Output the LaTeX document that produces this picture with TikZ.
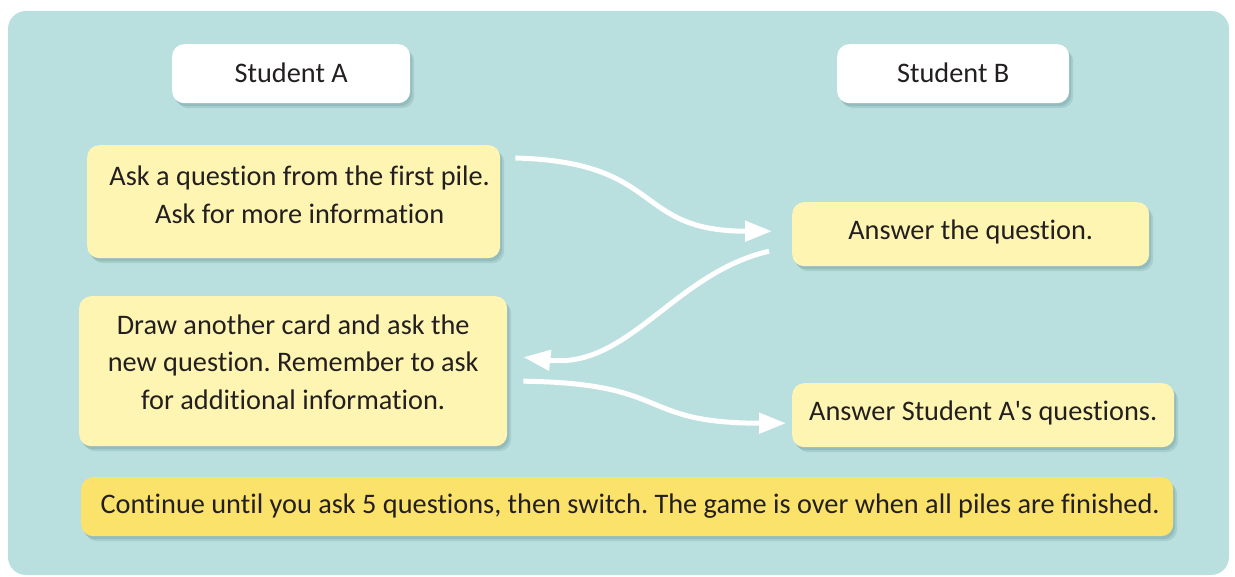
\documentclass[tikz,border=0pt]{standalone}
\usepackage{fontspec}
\setmainfont{Carlito}[Ligatures={TeXOff,NoCommon}]
\usetikzlibrary{arrows.meta,shadows,calc}
\definecolor{panel}{HTML}{BADFDF}
\definecolor{cardy}{HTML}{FFF5B3}
\definecolor{noteY}{HTML}{FBE26B}
\definecolor{ink}{HTML}{231F20}
\definecolor{shade}{HTML}{6F9C9F}
\frenchspacing
\begin{document}
\begin{tikzpicture}[x=1pt,y=-1pt,
  softshadow/.style={
    drop shadow={shadow xshift=2pt,shadow yshift=-3pt,fill=shade,opacity=0.35},
    drop shadow={shadow xshift=4pt,shadow yshift=-5pt,fill=shade,opacity=0.25}},
  boxbase/.style={rounded corners=12pt, draw=none, inner sep=0pt, anchor=north west, softshadow},
  card/.style={boxbase, fill=cardy},
  headbox/.style={boxbase, fill=white},
  notebox/.style={boxbase, fill=noteY},
  txt/.style={text=ink, font=\fontsize{28.3}{37.5}\selectfont, align=center, inner sep=0pt},
  flow/.style={white, line width=5pt, -{Triangle[length=27pt,width=20pt]}}
]
\useasboundingbox (0,0) rectangle (1235,577);
\fill[white] (0,0) rectangle (1235,577);
\fill[panel, rounded corners=18pt] (8,11) rectangle (1229,575);

% headers
\node[headbox, minimum width=238pt, minimum height=59pt] (ha) at (172,44) {};
\node[txt] (hat) at ($(ha.center)+(0,-1)$) {Student A};
\node[headbox, minimum width=232pt, minimum height=59pt] (hb) at (837,44) {};
\node[txt] (hbt) at ($(hb.center)+(0,-1)$) {Student B};

% cards
\node[card, minimum width=413pt, minimum height=113pt] (q1) at (87,145) {};
\node[txt] (q1t) at ($(q1.center)+(6,-7)$) {Ask a question from the first pile.\\Ask for more information};
\node[card, minimum width=428pt, minimum height=150pt] (q2) at (79,296) {};
\node[txt] (q2t) at ($(q2.center)+(0,-9)$) {Draw another card and ask the\\new question. Remember to ask\\for additional information.};
\node[card, minimum width=357pt, minimum height=64pt] (r1) at (792,202) {};
\node[txt] (r1t) at ($(r1.center)+(0,-2)$) {Answer the question.};
\node[card, minimum width=382pt, minimum height=64pt] (r2) at (792,383) {};
\node[txt] (r2t) at ($(r2.center)+(0,-2)$) {Answer Student A's questions.};

% bottom note
\node[notebox, minimum width=1092pt, minimum height=59pt] (nb) at (81,477) {};
\node[txt] (nbt) at ($(nb.center)+(3,-1)$) {Continue until you ask 5 questions, then switch. The game is over when all piles are finished.};

% connector ends
\coordinate (a1s) at ($(q1.north east)+(15,13)$);
\coordinate (a1e) at ($(r1.west)+(-20,-3)$);
\coordinate (a2s) at ($(r1.west)+(-23,17)$);
\coordinate (a2e) at ($(q2.east)+(16,-14)$);
\coordinate (a3s) at ($(q2.east)+(16,10)$);
\coordinate (a3e) at ($(r2.west)+(-6,8)$);

\draw[flow] (a1s) .. controls +(150,4) and +(-140,0) .. (a1e);
\draw[flow] (a2s) .. controls +(-95,22) and +(105,12) .. (a2e);
\draw[flow] (a3s) .. controls +(150,2) and +(-150,0) .. (a3e);
\end{tikzpicture}
\end{document}
